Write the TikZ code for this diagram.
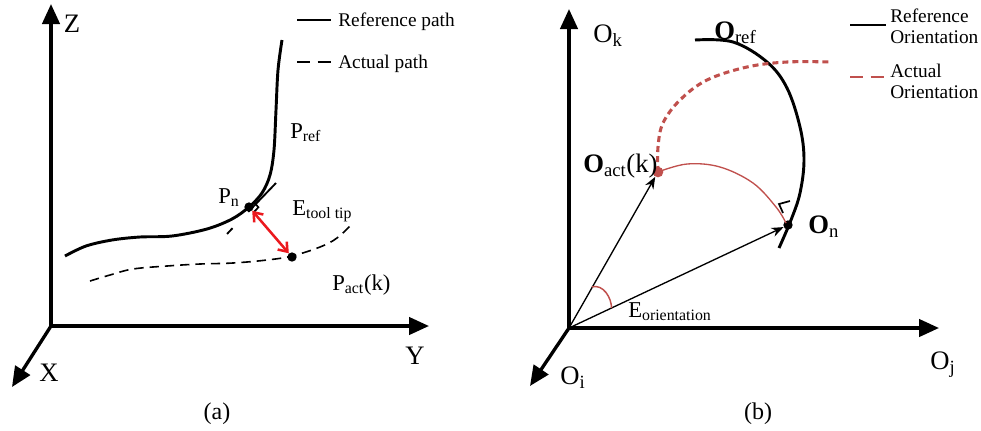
\documentclass[tikz,border=0pt]{standalone}
\usepackage{fontspec}
\setmainfont{Liberation Serif}
\usetikzlibrary{arrows.meta,calc}
\definecolor{oriRed}{RGB}{192,80,77}
\definecolor{errRed}{RGB}{235,25,30}
\tikzset{
  axis/.style={line width=2.5pt,-{Triangle[width=13pt,length=15pt]}},
  refline/.style={line width=2.2pt},
  actline/.style={line width=1.2pt,dash pattern=on 7pt off 4.5pt},
  legact/.style={line width=2.2pt,dash pattern=on 10pt off 5.5pt},
  oriact/.style={oriRed,line width=2.3pt,dash pattern=on 4.5pt off 3pt},
  vec/.style={line width=1pt,-{Stealth[length=9pt,width=7pt]}},
  axlab/.style={font=\fontsize{20}{22}\selectfont,inner sep=0pt},
  lab/.style={font=\fontsize{17}{19}\selectfont,inner sep=0pt,anchor=base west},
  olab/.style={font=\fontsize{20}{22}\selectfont,inner sep=0pt,anchor=base west},
  leg/.style={font=\fontsize{14.5}{16}\selectfont,inner sep=0pt},
  caplab/.style={font=\fontsize{18}{20}\selectfont,inner sep=0pt},
  dot/.style={circle,fill=black,inner sep=0pt,minimum size=7pt},
}
\begin{document}
\begin{tikzpicture}[x=0.75pt,y=-0.75pt]
\useasboundingbox (0,0) rectangle (981,430);

% ---------------- panel (a) ----------------
\coordinate (oa) at (51,326);
\coordinate (za) at (51,4);
\coordinate (ya) at (429,326);
\coordinate (xa) at (12,387);
\draw[axis] (oa) -- (za);
\draw[axis] (oa) -- (ya);
\draw[axis] (oa) -- (xa);
\node[axlab] (zl) at (72,24) {Z};
\node[axlab] (yl) at (415,356) {Y};
\node[axlab] (xl) at (49,373) {X};

% legend
\coordinate (la1) at (297,20);
\coordinate (la2) at (331,20);
\coordinate (lb1) at (297,62);
\coordinate (lb2) at (331,62);
\draw[refline] (la1) -- (la2);
\draw[legact] (lb1) -- (lb2);
\node[leg,anchor=base west] (legref) at (338,26) {Reference path};
\node[leg,anchor=base west] (legact) at (338,68) {Actual path};

% reference path
\draw[refline] plot[smooth,tension=0.55] coordinates {(65,256) (86,246) (112,240) (140,237) (172,236) (207,229) (232,219) (249,207) (262,193) (270,175) (274,150) (276,110) (278,70) (282,40)};
% actual path
\draw[actline] plot[smooth,tension=0.6] coordinates {(90,281) (110,275) (133,269) (167,266) (200,264) (233,263) (267,260) (292,256) (320,247) (337,238) (353,223)};

% tangent
\coordinate (tanA) at (276,183);
\coordinate (tanB) at (226,235);
\draw[line width=1.4pt,dash pattern=on 30pt off 17pt on 6pt off 10pt] (tanA) -- (tanB);

\node[dot] (pn) at (249,207) {};
\node[dot] (pact) at (292,257) {};
\draw[line width=1.3pt] (pn.center) ++(4.8,-5) -- ++(4.6,5.3) -- ++(-4.8,5);
\draw[errRed,line width=1.9pt,{Straight Barb[length=6pt,width=9pt]}-{Straight Barb[length=6pt,width=9pt]}] (pn) -- (pact);

\node[lab] (pref) at (290,138) {P\textsubscript{ref}};
\node[lab] (pnl) at (218,203) {P\textsubscript{n}};
\node[lab] (etool) at (292,215) {E\textsubscript{tool tip}};
\node[lab] (pactl) at (332,290) {P\textsubscript{act}(k)};

\node[caplab] (capa) at (217,414) {(a)};

% ---------------- panel (b) ----------------
\coordinate (ob) at (569,328);
\coordinate (kb) at (569,9);
\coordinate (jb) at (939,328);
\coordinate (ib) at (530,386);
\draw[axis] (ob) -- (kb);
\draw[axis] (ob) -- (jb);
\draw[axis] (ob) -- (ib);
\node[axlab,anchor=base west] (okl) at (593,42) {O\textsubscript{k}};
\node[axlab,anchor=base west] (ojl) at (930,369) {O\textsubscript{j}};
\node[axlab,anchor=base west] (oil) at (560,384) {O\textsubscript{i}};

% legend
\coordinate (lc1) at (850,25);
\coordinate (lc2) at (886,25);
\coordinate (ld1) at (850,77);
\coordinate (ld2) at (886,77);
\draw[refline] (lc1) -- (lc2);
\draw[oriRed,legact] (ld1) -- (ld2);
\node[leg,anchor=base west] (legrefo) at (890,22) {Reference};
\node[leg,anchor=base west] (legrefo2) at (890,43) {Orientation};
\node[leg,anchor=base west] (legacto) at (890,77) {Actual};
\node[leg,anchor=base west] (legacto2) at (890,98) {Orientation};

% reference orientation
\draw[refline] plot[smooth,tension=0.6] coordinates {(695,40) (733,42) (767,62) (787,88) (800,127) (804,160) (800,193) (791,220) (779,248)};
% actual orientation
\draw[oriact] plot[smooth,tension=0.6] coordinates {(658,172) (658,147) (663,123) (680,100) (707,80) (747,67) (787,62) (830,62)};

\node[circle,fill=oriRed,inner sep=0pt,minimum size=8pt] (oact) at (658,172) {};
\node[circle,fill=black,inner sep=0pt,minimum size=7pt] (on) at (788,225) {};

% error arc
\draw[oriRed,line width=1pt] plot[smooth,tension=0.6] coordinates {(658,172) (687,164) (720,167) (753,183) (776,207) (786,223)};
\draw[line width=1.3pt] (on.center) ++(-5,-12) -- ++(-4,-9) -- ++(11,-3);

\draw[vec] (ob) -- (oact);
\draw[vec] (ob) -- (on);
\coordinate (angA) at ($(ob)+(-61:47)$);
\coordinate (angB) at ($(ob)+(-25.2:47)$);
\draw[oriRed,line width=1.1pt] (angA) .. controls +(-15:12) and +(-90:10) .. (angB);

\node[olab] (orefl) at (714,39) {\textbf{O}\textsubscript{ref}};
\node[olab] (oactl) at (583,172) {\textbf{O}\textsubscript{act}(k)};
\node[olab] (onl) at (808,233) {\textbf{O}\textsubscript{n}};
\node[lab] (eori) at (628,317) {E\textsubscript{orientation}};

\node[caplab] (capb) at (758,414) {(b)};
\end{tikzpicture}
\end{document}
